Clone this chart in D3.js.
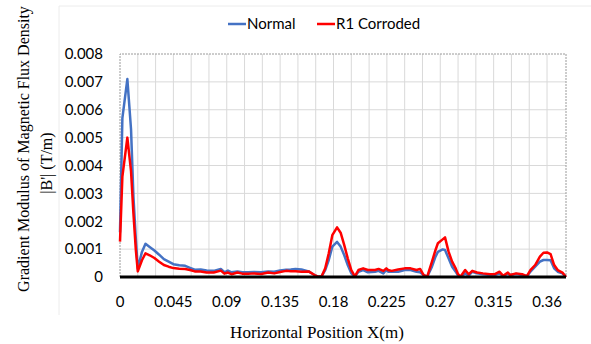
<!DOCTYPE html>
<html>
<head>
<meta charset="utf-8">
<script src="https://cdn.jsdelivr.net/npm/d3@7"></script>
<style>
  body { margin: 0; background: #fff; }
  svg { display: block; }
</style>
</head>
<body>
<div id="chart"></div>
<script>
// positions along the specimen (m)
const posX = [0, 0.002, 0.0062, 0.0093, 0.0113, 0.0133, 0.015, 0.0185, 0.0215, 0.025,
  0.029, 0.033, 0.037, 0.041, 0.045, 0.05, 0.055, 0.059, 0.063, 0.068,
  0.073, 0.079, 0.085, 0.088, 0.091, 0.094, 0.099, 0.103, 0.108, 0.113,
  0.119, 0.125, 0.13, 0.135, 0.14, 0.144, 0.148, 0.153, 0.159, 0.164,
  0.167, 0.17, 0.173, 0.176, 0.179, 0.183, 0.186, 0.189, 0.192, 0.195,
  0.198, 0.201, 0.205, 0.209, 0.215, 0.218, 0.222, 0.2245, 0.226, 0.229,
  0.2345, 0.24, 0.245, 0.25, 0.253, 0.256, 0.259, 0.263, 0.266, 0.268,
  0.272, 0.274, 0.277, 0.28, 0.283, 0.285, 0.287, 0.291, 0.294, 0.297,
  0.301, 0.306, 0.312, 0.316, 0.32, 0.323, 0.327, 0.329, 0.334, 0.339,
  0.343, 0.346, 0.35, 0.354, 0.357, 0.36, 0.363, 0.366, 0.369, 0.373, 0.376];

const normal = [0.0016, 0.0057, 0.0071, 0.0053, 0.0029, 0.0014, 0.0003, 0.0009, 0.00119, 0.00108,
  0.00095, 0.0008, 0.00064, 0.00055, 0.00046, 0.00042, 0.0004, 0.00033, 0.00026, 0.00027,
  0.00023, 0.00022, 0.00029, 0.00017, 0.00023, 0.00017, 0.0002, 0.00017, 0.00017, 0.00018,
  0.00017, 0.0002, 0.00019, 0.00023, 0.00026, 0.00027, 0.00029, 0.00027, 0.0002, 0.00007,
  0.00001, 0.00003, 0.00025, 0.00061, 0.00109, 0.00126, 0.00109, 0.00079, 0.00043, 0.00013,
  0.00002, 0.00019, 0.00025, 0.00017, 0.00019, 0.00022, 0.00013, 0.00025, 0.00019, 0.00019,
  0.00019, 0.00025, 0.00025, 0.00019, 0.00017, 0.00007, 0.00001, 0.00037, 0.00073, 0.0009,
  0.00099, 0.00097, 0.00067, 0.00037, 0.00019, 0.00005, 0.00001, 0.00013, 0.00005, 0.00019,
  0.00013, 0.0001, 0.00007, 0.00007, 0.00013, 0.00004, 0.00011, 0.00007, 0.00011, 0.00007,
  0.00003, 0.00019, 0.00037, 0.00055, 0.00061, 0.00061, 0.0006, 0.00031, 0.00019, 0.00013, 0];

const corroded = [0.00127, 0.0036, 0.005, 0.0038, 0.0023, 0.001, 0.0002, 0.0006, 0.00085, 0.00078,
  0.00068, 0.00055, 0.00043, 0.00037, 0.00032, 0.0003, 0.00029, 0.00025, 0.0002, 0.0002,
  0.00016, 0.00016, 0.00023, 0.00012, 0.00016, 0.0001, 0.00016, 0.00012, 0.00012, 0.00013,
  0.00011, 0.00016, 0.00013, 0.00018, 0.00022, 0.00021, 0.00021, 0.00019, 0.0002, 0.00007,
  0.00001, 0.00003, 0.00031, 0.00085, 0.0015, 0.00178, 0.00159, 0.00115, 0.00067, 0.00025,
  0.00002, 0.00025, 0.00031, 0.00025, 0.00025, 0.00029, 0.00022, 0.00031, 0.00025, 0.00022,
  0.00027, 0.00031, 0.00031, 0.00025, 0.00029, 0.00007, 0.00001, 0.00055, 0.00097, 0.00121,
  0.00135, 0.00142, 0.00091, 0.00055, 0.00031, 0.0001, 0.00001, 0.00025, 0.0001, 0.00022,
  0.00016, 0.00013, 0.0001, 0.0001, 0.00019, 0.00004, 0.00016, 0.00007, 0.00013, 0.0001,
  0.00003, 0.00025, 0.00043, 0.00073, 0.00087, 0.00088, 0.00082, 0.00043, 0.00025, 0.00016, 0];

const xTickValues = [0, 0.045, 0.09, 0.135, 0.18, 0.225, 0.27, 0.315, 0.36];
const xTickLabels = ['0', '0.045', '0.09', '0.135', '0.18', '0.225', '0.27', '0.315', '0.36'];
const yTickValues = [0, 0.001, 0.002, 0.003, 0.004, 0.005, 0.006, 0.007, 0.008];
const yTickLabels = ['0', '0.001', '0.002', '0.003', '0.004', '0.005', '0.006', '0.007', '0.008'];
const seriesNames = ['Normal', 'R1 Corroded'];
const seriesColors = ['#4472C4', '#FF0000'];

const W = 591, H = 344;
const plotL = 120, plotR = 566, plotT = 54, plotB = 277;

const svg = d3.select('#chart').append('svg')
  .attr('width', W).attr('height', H);

// faint chart-area edge
svg.append('path')
  .attr('d', `M59,315V6H591`)
  .attr('fill', 'none').attr('stroke', '#ececec');

const x = d3.scaleLinear().domain([0, 0.376]).range([plotL, plotR]);
const y = d3.scaleLinear().domain([0, 0.008]).range([plotB, plotT]);

// gridlines
const gx = d3.range(1, 25).map(i => i * 0.015);
svg.append('g').selectAll('line').data(gx).join('line')
  .attr('x1', d => x(d)).attr('x2', d => x(d))
  .attr('y1', plotT).attr('y2', plotB)
  .attr('stroke', '#d9d9d9').attr('stroke-width', 1);
svg.append('g').selectAll('line').data(yTickValues.slice(1, -1)).join('line')
  .attr('x1', plotL).attr('x2', plotR)
  .attr('y1', d => y(d)).attr('y2', d => y(d))
  .attr('stroke', '#d9d9d9').attr('stroke-width', 1);

// dashed plot border
svg.append('path')
  .attr('d', `M${plotL},${plotB}V${plotT}H${plotR}V${plotB}`)
  .attr('fill', 'none').attr('stroke', '#9a9a9a')
  .attr('stroke-dasharray', '2,1').attr('stroke-width', 1);

// y tick labels
svg.append('g').selectAll('text').data(yTickValues).join('text')
  .attr('x', 103).attr('y', d => y(d))
  .attr('dy', '0.35em')
  .attr('text-anchor', 'end')
  .attr('font-family', 'Lato, sans-serif').attr('font-size', 15)
  .attr('fill', '#000')
  .text((d, i) => yTickLabels[i]);

// x tick labels
svg.append('g').selectAll('text').data(xTickValues).join('text')
  .attr('x', d => x(d)).attr('y', 302)
  .attr('dy', '0.35em')
  .attr('text-anchor', 'middle')
  .attr('font-family', 'Lato, sans-serif').attr('font-size', 15)
  .attr('fill', '#000')
  .text((d, i) => xTickLabels[i]);

// lines
const data = posX.map((p, i) => ({ p, a: normal[i], b: corroded[i] }));
const lineA = d3.line().x(d => x(d.p)).y(d => y(d.a));
const lineB = d3.line().x(d => x(d.p)).y(d => y(d.b));

svg.append('path').datum(data)
  .attr('d', lineA)
  .attr('fill', 'none').attr('stroke', seriesColors[0])
  .attr('stroke-width', 2.5).attr('stroke-linejoin', 'round');
svg.append('path').datum(data)
  .attr('d', lineB)
  .attr('fill', 'none').attr('stroke', seriesColors[1])
  .attr('stroke-width', 2.5).attr('stroke-linejoin', 'round');

// x axis line
svg.append('line')
  .attr('x1', plotL).attr('x2', plotR)
  .attr('y1', plotB).attr('y2', plotB)
  .attr('stroke', '#000').attr('stroke-width', 3);

// legend
const legendX = [228, 317];
const lg = svg.append('g');
seriesNames.forEach((name, i) => {
  lg.append('line')
    .attr('x1', legendX[i]).attr('x2', legendX[i] + 18)
    .attr('y1', 24).attr('y2', 24)
    .attr('stroke', seriesColors[i]).attr('stroke-width', 2.5);
  lg.append('text')
    .attr('x', legendX[i] + 19).attr('y', 24).attr('dy', '0.35em')
    .attr('font-family', 'Lato, sans-serif').attr('font-size', 15)
    .attr('fill', '#000')
    .text(name);
});

// axis titles
svg.append('text')
  .attr('transform', 'translate(23,149) rotate(-90)')
  .attr('text-anchor', 'middle').attr('dy', '0.35em')
  .attr('font-family', '"Liberation Serif", serif').attr('font-size', 16)
  .text('Gradient Modulus of Magnetic Flux Density');
svg.append('text')
  .attr('transform', 'translate(46,163) rotate(-90)')
  .attr('text-anchor', 'middle').attr('dy', '0.35em')
  .attr('font-family', '"Liberation Serif", serif').attr('font-size', 16)
  .text("|B'| (T/m)");
svg.append('text')
  .attr('x', 317).attr('y', 332).attr('dy', '0.35em')
  .attr('text-anchor', 'middle')
  .attr('font-family', '"Liberation Serif", serif').attr('font-size', 17)
  .text('Horizontal Position X(m)');
</script>
</body>
</html>
